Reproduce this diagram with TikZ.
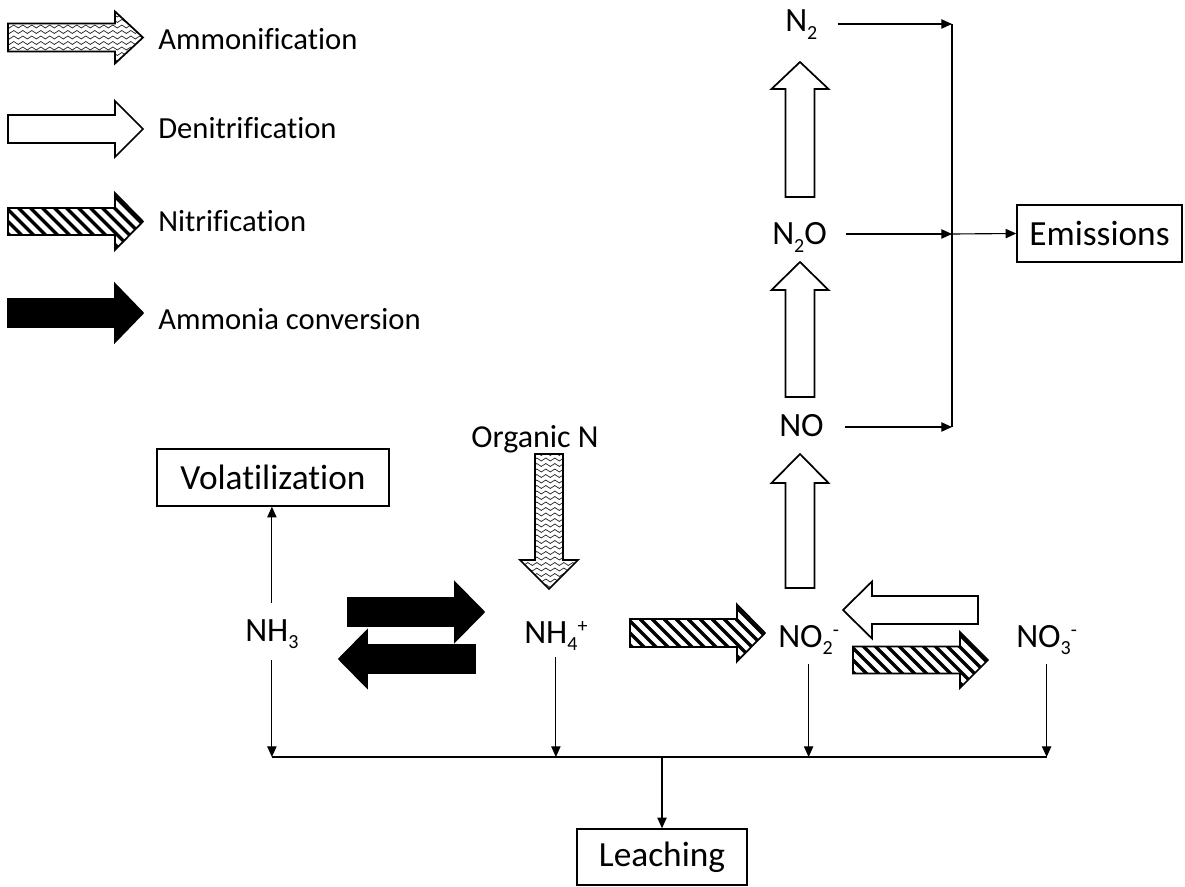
\documentclass[tikz,border=0pt]{standalone}
\usepackage{fontspec}
\setmainfont{Carlito}[Ligatures=CommonOff]
\usetikzlibrary{arrows.meta,decorations.pathmorphing}

\newcommand{\mainfs}{\fontsize{25.5pt}{30pt}\selectfont}
\newcommand{\boxfs}{\fontsize{26.5pt}{31pt}\selectfont}
\newcommand{\orgfs}{\fontsize{24pt}{28pt}\selectfont}
\newcommand{\legfs}{\fontsize{23pt}{27pt}\selectfont}
\newcommand{\sbs}[1]{\raisebox{-5.8pt}{\fontsize{15pt}{15pt}\selectfont #1}}
\newcommand{\sps}[1]{\raisebox{8pt}{\fontsize{15pt}{15pt}\selectfont #1}}

% block arrow pointing along +x from (0,0): length, head length, body half-width, head half-width
\newcommand{\ArrPath}[4]{(0,-#3) -- ({#1-#2},-#3) -- ({#1-#2},-#4) -- (#1,0) -- ({#1-#2},#4) -- ({#1-#2},#3) -- (0,#3) -- cycle}
\newcommand{\HatchAt}[2]{\foreach \k in {-26,...,26}{\draw[hatchln] ({#1+12*\k-150},{#2-150}) -- ({#1+12*\k+150},{#2+150});}}
\newcommand{\WaveAt}[2]{\foreach \k in {-28,...,28}{\draw[waveln] ({#1-150},{#2+5.5*\k}) -- ({#1+150},{#2+5.5*\k});}}
\newcommand{\BlackAt}[2]{\fill[black] ({#1-200},{#2-200}) rectangle ({#1+200},{#2+200});}
\newcommand{\NoneAt}[2]{}
\newcommand{\BlockArrow}[8]{%
  \begin{scope}
    \clip[shift={(#2,#3)},rotate=#4] \ArrPath{#5}{#6}{#7}{#8};
    #1{#2}{#3}
  \end{scope}
  \draw[outlinearr,shift={(#2,#3)},rotate=#4] \ArrPath{#5}{#6}{#7}{#8};}

\tikzset{
  hatchln/.style={line width=2.6pt, black},
  waveln/.style={line width=0.55pt, black!85, decorate,
    decoration={snake, segment length=6.75pt, amplitude=1.1pt}},
  outlinearr/.style={line width=1.3pt, line join=miter, black},
  chem/.style={inner sep=0pt, font=\mainfs},
  legtxt/.style={inner sep=0pt, font=\legfs},
  box/.style={draw, line width=1.1pt, inner sep=0pt, font=\boxfs},
  thinln/.style={line width=0.85pt},
  conn/.style={line width=0.85pt, -{Triangle[length=8pt,width=7pt]}}
}

\begin{document}
\begin{tikzpicture}[x=0.75pt,y=-0.75pt]
\useasboundingbox (0,0) rectangle (1185,887);

% ---------- legend ----------
\BlockArrow{\WaveAt}{8}{37.5}{0}{135}{28}{14}{26}
\BlockArrow{\NoneAt}{8}{129}{0}{135}{28}{14}{28}
\BlockArrow{\HatchAt}{8}{221.5}{0}{135}{28}{13.5}{28.5}
\BlockArrow{\BlackAt}{8}{313}{0}{135}{28}{14}{29}
\node[legtxt, anchor=base west] (lg1) at (158,50) {Ammonification};
\node[legtxt, anchor=base west] (lg2) at (158,139) {Denitrification};
\node[legtxt, anchor=base west] (lg3) at (158,232) {Nitrification};
\node[legtxt, anchor=base west] (lg4) at (158,330) {Ammonia conversion};

% ---------- labels ----------
\node[chem, anchor=base west] (n2) at (785,32) {N\sbs{2}};
\node[chem, anchor=base west] (n2o) at (772,245) {N\sbs{2}O};
\node[chem, anchor=base west] (no) at (779,437) {NO};
\node[chem, anchor=base, font=\orgfs] (org) at (535,448) {Organic N};
\node[chem, anchor=base west] (nh3) at (245,641) {NH\sbs{3}};
\node[chem, anchor=base west] (nh4) at (524,643) {NH\sbs{4}\sps{+}};
\node[chem, anchor=base west] (no2) at (778,647) {NO\sbs{2}\sps{-}};
\node[chem, anchor=base west] (no3) at (1016,647) {NO\sbs{3}\sps{-}};

\node[box, minimum width=174pt, minimum height=42.75pt] (vol) at (273,477.5) {Volatilization};
\node[box, minimum width=123.75pt, minimum height=42.75pt] (emis) at (1099.5,233.5) {Emissions};
\node[box, minimum width=127.5pt, minimum height=42pt] (leach) at (662,857) {Leaching};

% ---------- block arrows ----------
\BlockArrow{\BlackAt}{348}{612}{0}{136}{29}{14}{29.5}
\BlockArrow{\BlackAt}{475}{659}{180}{136}{28}{14}{28.5}
\BlockArrow{\WaveAt}{549}{454}{-90}{135}{29}{14}{29}
\BlockArrow{\HatchAt}{630}{633}{0}{135}{28}{14}{28.5}
\BlockArrow{\NoneAt}{800}{588}{90}{134}{29}{14.5}{28.5}
\BlockArrow{\NoneAt}{800}{397}{90}{135}{28}{14.5}{28.5}
\BlockArrow{\NoneAt}{800}{197}{90}{135}{27}{14.5}{28.5}
\BlockArrow{\NoneAt}{978}{610}{180}{135}{29}{14}{28.5}
\BlockArrow{\HatchAt}{853}{660}{0}{135}{28}{13.5}{28}

% ---------- emissions connectors ----------
\coordinate (vtop) at (952,24);
\coordinate (vmid) at (952,234);
\coordinate (vbot) at (952,427);
\draw[thinln] (vtop) -- (vbot);
\draw[conn, shorten <=15pt] (n2.east |- vtop) -- (vtop);
\draw[conn, shorten <=14pt] (n2o.east |- vmid) -- (vmid);
\draw[conn, shorten <=16pt] (no.east |- vbot) -- (vbot);
\draw[conn] (vmid) -- (emis.west);

% ---------- volatilization ----------
\draw[conn, shorten <=12pt] (nh3.north) -- (nh3.north |- vol.south);

% ---------- leaching connectors ----------
\coordinate (hl) at (662,757);
\draw[thinln] (nh3.south |- hl) -- (no3.south |- hl);
\draw[conn, shorten <=8pt] (nh3.south) -- (nh3.south |- hl);
\draw[conn, shorten <=4.5pt] (nh4.south) -- (nh4.south |- hl);
\draw[conn, shorten <=7pt] (no2.south) -- (no2.south |- hl);
\draw[conn, shorten <=7pt] (no3.south) -- (no3.south |- hl);
\draw[conn] (hl) -- (leach.north);
\end{tikzpicture}
\end{document}
